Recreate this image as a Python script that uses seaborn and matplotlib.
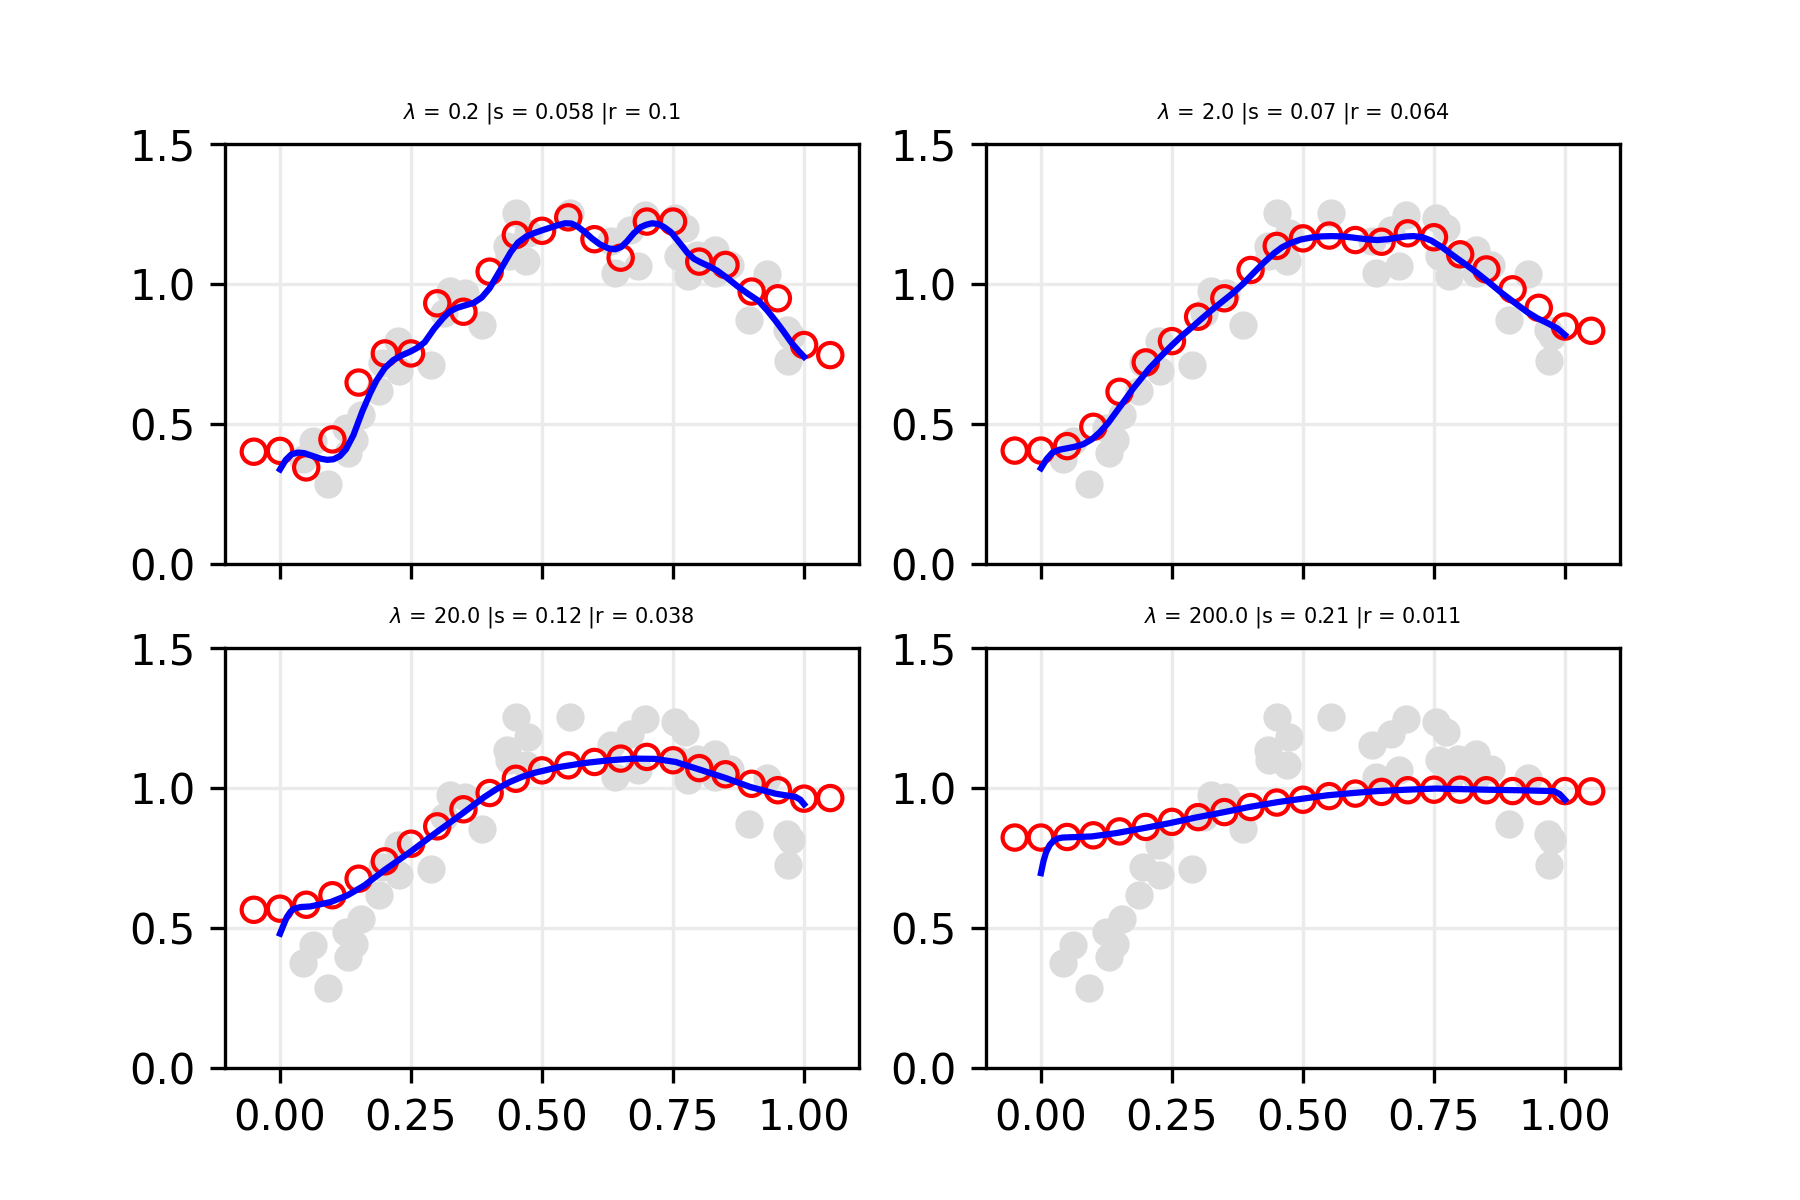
import matplotlib
matplotlib.use("Agg")
import matplotlib.pyplot as plt
import seaborn as sns
import pandas as pd

# ---- data ----
gray_x = [0.043, 0.062, 0.092, 0.129, 0.142, 0.125, 0.154, 0.188, 0.194, 0.227, 0.226, 0.288,
          0.312, 0.325, 0.353, 0.386, 0.450, 0.474, 0.433, 0.436, 0.469, 0.554,
          0.631, 0.668, 0.697, 0.754, 0.773, 0.640, 0.683, 0.760, 0.795, 0.830, 0.859,
          0.778, 0.830, 0.929, 0.894, 0.967, 0.976, 0.970]
gray_y = [0.376, 0.438, 0.287, 0.396, 0.442, 0.486, 0.531, 0.617, 0.718, 0.688, 0.795, 0.712,
          0.896, 0.974, 0.968, 0.855, 1.254, 1.182, 1.135, 1.099, 1.081, 1.254,
          1.152, 1.194, 1.248, 1.236, 1.200, 1.039, 1.063, 1.099, 1.105, 1.123, 1.069,
          1.030, 1.040, 1.034, 0.873, 0.837, 0.813, 0.724]

grid_x = [-0.05, 0.00, 0.05, 0.10, 0.15, 0.20, 0.25, 0.30, 0.35, 0.40, 0.45, 0.50,
          0.55, 0.60, 0.65, 0.70, 0.75, 0.80, 0.85, 0.90, 0.95, 1.00, 1.05]

red_y_1 = [0.401, 0.404, 0.345, 0.445, 0.648, 0.752, 0.752, 0.931, 0.901, 1.044, 1.175, 1.190,
           1.238, 1.160, 1.094, 1.223, 1.223, 1.080, 1.068, 0.973, 0.949, 0.782, 0.746]
red_y_2 = [0.405, 0.405, 0.421, 0.490, 0.615, 0.720, 0.796, 0.883, 0.949, 1.050, 1.136, 1.163,
           1.173, 1.157, 1.151, 1.181, 1.167, 1.106, 1.052, 0.981, 0.915, 0.848, 0.833]
red_y_3 = [0.565, 0.569, 0.583, 0.617, 0.676, 0.738, 0.801, 0.863, 0.924, 0.982, 1.033, 1.063,
           1.081, 1.093, 1.105, 1.111, 1.099, 1.071, 1.049, 1.015, 0.992, 0.962, 0.964]
red_y_4 = [0.823, 0.823, 0.825, 0.831, 0.845, 0.861, 0.879, 0.896, 0.914, 0.932, 0.948, 0.958,
           0.971, 0.980, 0.986, 0.992, 0.994, 0.994, 0.992, 0.989, 0.989, 0.989, 0.988]

blue_x_1 = [0.0, 0.011, 0.022, 0.034, 0.046, 0.062, 0.078, 0.09, 0.102, 0.114, 0.126, 0.14,
            0.157, 0.172, 0.184, 0.2, 0.216, 0.232, 0.248, 0.262, 0.276, 0.294, 0.311, 0.324,
            0.338, 0.354, 0.37, 0.385, 0.4, 0.422, 0.44, 0.454, 0.47, 0.485, 0.502, 0.517, 0.532,
            0.544, 0.556, 0.568, 0.582, 0.595, 0.61, 0.627, 0.64, 0.651, 0.662, 0.675, 0.688,
            0.699, 0.71, 0.722, 0.734, 0.746, 0.762, 0.778, 0.79, 0.802, 0.818, 0.834, 0.853,
            0.873, 0.893, 0.913, 0.93, 0.945, 0.961, 0.976, 0.99, 1.0]
blue_y_1 = [0.338, 0.372, 0.392, 0.398, 0.396, 0.386, 0.376, 0.372, 0.374, 0.385, 0.41, 0.46,
            0.545, 0.61, 0.655, 0.70, 0.728, 0.745, 0.758, 0.772, 0.792, 0.84, 0.878, 0.902,
            0.915, 0.924, 0.933, 0.952, 0.985, 1.055, 1.113, 1.148, 1.170, 1.182, 1.193, 1.202,
            1.211, 1.217, 1.216, 1.205, 1.185, 1.163, 1.142, 1.127, 1.124, 1.132, 1.152, 1.181,
            1.203, 1.212, 1.217, 1.214, 1.202, 1.185, 1.148, 1.110, 1.090, 1.078, 1.064, 1.048,
            1.022, 0.992, 0.965, 0.940, 0.905, 0.870, 0.830, 0.790, 0.760, 0.740]

blue_x_2 = [0.0, 0.011, 0.022, 0.035, 0.049, 0.065, 0.081, 0.097, 0.112, 0.128, 0.144, 0.16,
            0.176, 0.192, 0.207, 0.227, 0.247, 0.266, 0.286, 0.306, 0.326, 0.346, 0.366, 0.386,
            0.405, 0.425, 0.445, 0.46, 0.476, 0.496, 0.516, 0.535, 0.555, 0.575, 0.595, 0.62,
            0.642, 0.662, 0.682, 0.698, 0.712, 0.728, 0.745, 0.765, 0.785, 0.808, 0.832, 0.856,
            0.88, 0.904, 0.927, 0.947, 0.967, 0.985, 1.0]
blue_y_2 = [0.342, 0.375, 0.398, 0.408, 0.413, 0.419, 0.428, 0.445, 0.470, 0.503, 0.544, 0.585,
            0.627, 0.664, 0.699, 0.738, 0.776, 0.810, 0.842, 0.875, 0.907, 0.937, 0.967, 1.001,
            1.038, 1.076, 1.110, 1.131, 1.146, 1.159, 1.166, 1.170, 1.171, 1.170, 1.166, 1.160,
            1.157, 1.160, 1.166, 1.170, 1.171, 1.167, 1.155, 1.132, 1.104, 1.073, 1.040, 1.004,
            0.967, 0.933, 0.901, 0.878, 0.860, 0.842, 0.818]

blue_x_3 = [0.0, 0.007, 0.013, 0.02, 0.026, 0.04, 0.058, 0.097, 0.129, 0.161, 0.2, 0.248, 0.295,
            0.343, 0.39, 0.414, 0.438, 0.462, 0.485, 0.533, 0.58, 0.628, 0.675, 0.715, 0.755,
            0.802, 0.85, 0.897, 0.945, 0.984, 0.993, 1.0]
blue_y_3 = [0.480, 0.512, 0.539, 0.558, 0.569, 0.575, 0.577, 0.593, 0.617, 0.652, 0.708, 0.771,
            0.837, 0.902, 0.968, 0.997, 1.021, 1.040, 1.054, 1.075, 1.089, 1.099, 1.105, 1.104,
            1.093, 1.065, 1.036, 1.004, 0.980, 0.968, 0.958, 0.942]

blue_x_4 = [0.0, 0.005, 0.01, 0.017, 0.025, 0.033, 0.041, 0.097, 0.144, 0.2, 0.247, 0.294,
            0.35, 0.397, 0.453, 0.5, 0.547, 0.595, 0.642, 0.698, 0.753, 0.8, 0.848, 0.911, 0.979,
            0.99, 1.0]
blue_y_4 = [0.696, 0.740, 0.771, 0.797, 0.813, 0.820, 0.823, 0.827, 0.839, 0.858, 0.875, 0.894,
            0.914, 0.932, 0.950, 0.962, 0.974, 0.982, 0.989, 0.994, 0.998, 0.996, 0.994, 0.992,
            0.989, 0.978, 0.958]

titles = [r"$\lambda$ = 0.2 |s = 0.058 |r = 0.1",
          r"$\lambda$ = 2.0 |s = 0.07 |r = 0.064",
          r"$\lambda$ = 20.0 |s = 0.12 |r = 0.038",
          r"$\lambda$ = 200.0 |s = 0.21 |r = 0.011"]

red_sets = [red_y_1, red_y_2, red_y_3, red_y_4]
blue_sets = [(blue_x_1, blue_y_1), (blue_x_2, blue_y_2), (blue_x_3, blue_y_3), (blue_x_4, blue_y_4)]

# ---- drawing ----
fig, axes = plt.subplots(2, 2, figsize=(6, 4), dpi=300, sharex=True)
gray_df = pd.DataFrame({"x": gray_x, "y": gray_y})

for ax, title, red_y, (bx, by) in zip(axes.flat, titles, red_sets, blue_sets):
    ax.set_axisbelow(True)
    ax.grid(True, color="#ebebeb", linewidth=0.8)
    sns.scatterplot(data=gray_df, x="x", y="y", ax=ax, color="#dcdcdc",
                    s=46, linewidth=0, zorder=2)
    red_df = pd.DataFrame({"x": grid_x, "y": red_y})
    sns.scatterplot(data=red_df, x="x", y="y", ax=ax, marker="o", s=34,
                    facecolors="none", edgecolor="red", linewidth=1.0, zorder=3)
    blue_df = pd.DataFrame({"x": bx, "y": by})
    sns.lineplot(data=blue_df, x="x", y="y", ax=ax, color="blue", linewidth=1.5,
                 sort=False, estimator=None, zorder=4)
    ax.set_title(title, fontsize=5)
    ax.set_xlabel("")
    ax.set_ylabel("")
    ax.set_ylim(0, 1.5)
    ax.set_yticks([0.0, 0.5, 1.0, 1.5])
    ax.set_xticks([0.0, 0.25, 0.5, 0.75, 1.0])

fig.savefig("out.png", dpi=300)
